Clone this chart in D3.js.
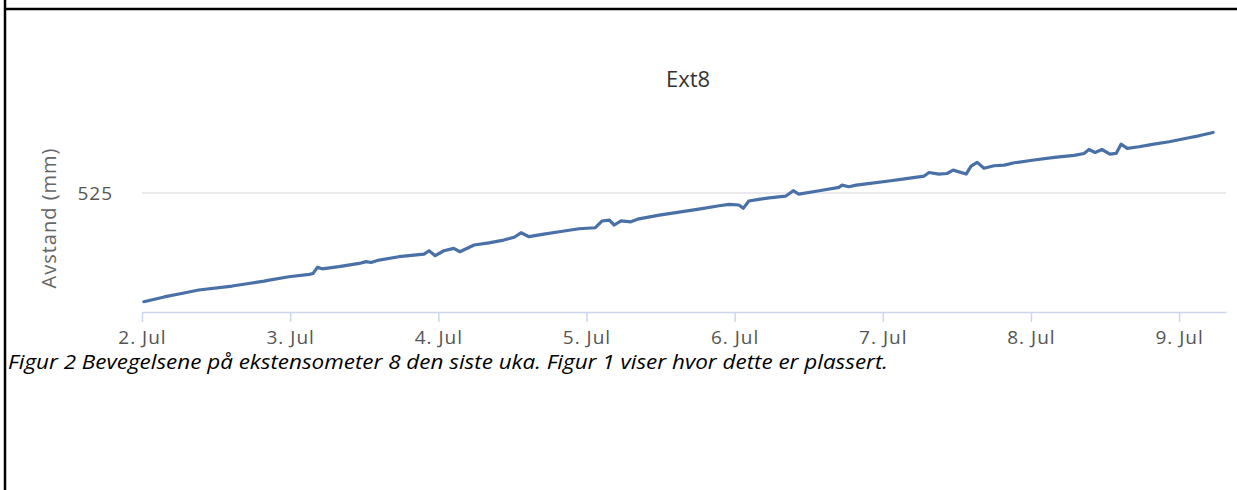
<!DOCTYPE html>
<html>
<head>
<meta charset="utf-8">
<script src="https://cdn.jsdelivr.net/npm/d3@7"></script>
<style>
  body { margin: 0; background: #fff; }
  svg { display: block; }
</style>
</head>
<body>
<div id="chart"></div>
<script>
(function() {

  // chart texts
  let chartTitle = "Ext8";
  let yTitle = "Avstand (mm)";
  let caption = "Figur 2 Bevegelsene på ekstensometer 8 den siste uka. Figur 1 viser hvor dette er plassert.";

  // x axis: one tick per day from 2. Jul
  let dayTicks = ["2. Jul", "3. Jul", "4. Jul", "5. Jul", "6. Jul", "7. Jul", "8. Jul", "9. Jul"];
  let yTicks = [525];

  // measurements: hours after 2. Jul 00:00 and distance in mm
  let hours = [0.3, 3.6, 6.8, 9.2, 14.6, 17.3, 19.8, 20.6, 23.8, 27.1, 27.7, 28.4, 29.2,
    31.9, 35.2, 36.3, 37.1, 38.4, 41.6, 45.7, 46.5, 47.5, 48.9,
    50.5, 51.5, 53.8, 56.2, 58.6, 60.3, 61.4, 62.7, 65.1, 67.6,
    70.8, 73.4, 74.5, 75.7, 76.5, 77.6, 79.2, 80.5, 83.8, 87.0,
    90.2, 93.5, 95.1, 96.7, 97.4, 98.3, 99.9, 101.6, 104.3, 105.5,
    106.4, 109.7, 112.9, 113.4, 114.5, 115.7, 117.0, 121.0, 123.5, 126.7,
    127.5, 129.1, 130.4, 131.4, 133.5, 134.3, 135.3, 136.4, 138.0, 139.7,
    141.3, 144.5, 147.8, 151.0, 152.6, 153.4, 154.4, 155.5, 156.8, 157.8,
    158.6, 159.6, 161.5, 163.9, 166.4, 169.6, 171.2, 173.5];
  let distance = [519.52, 519.76, 519.96, 520.11, 520.31, 520.44, 520.56, 520.61, 520.78, 520.90, 520.94, 521.25, 521.18,
    521.29, 521.45, 521.54, 521.50, 521.62, 521.79, 521.92, 522.09, 521.84, 522.09,
    522.21, 522.04, 522.38, 522.49, 522.63, 522.77, 523.00, 522.80, 522.93, 523.05,
    523.20, 523.25, 523.59, 523.64, 523.39, 523.60, 523.55, 523.70, 523.89, 524.04,
    524.19, 524.36, 524.43, 524.40, 524.23, 524.60, 524.68, 524.76, 524.85, 525.12,
    524.95, 525.12, 525.29, 525.40, 525.32, 525.40, 525.45, 525.61, 525.72, 525.86,
    526.04, 525.96, 525.99, 526.16, 525.96, 526.36, 526.55, 526.25, 526.38, 526.41,
    526.53, 526.67, 526.80, 526.90, 527.00, 527.20, 527.05, 527.20, 526.97, 527.00,
    527.47, 527.26, 527.34, 527.47, 527.59, 527.79, 527.89, 528.06];

  let start = new Date(2015, 6, 2);
  let hourMs = 3600 * 1000;
  let data = hours.map((h, i) => ({ date: new Date(+start + h * hourMs), value: distance[i] }));
  let tickDates = dayTicks.map((d, i) => new Date(+start + i * 24 * hourMs));

  let W = 1237, H = 490;
  let plot = { left: 142, right: 1226, top: 94, bottom: 312 };

  let svg = d3.select("#chart")
    .append("svg")
      .attr("width", W)
      .attr("height", H);

  svg.append("rect").attr("width", W).attr("height", H).attr("fill", "#fff");

  // table borders of the document
  svg.append("line")
      .attr("x1", 4).attr("x2", W).attr("y1", 9).attr("y2", 9)
      .attr("stroke", "#000").attr("stroke-width", 2.5);
  svg.append("line")
      .attr("x1", 5).attr("x2", 5).attr("y1", 0).attr("y2", H)
      .attr("stroke", "#000").attr("stroke-width", 2.5);

  // scales
  let x = d3.scaleTime()
      .domain([start, new Date(+start + 175.6 * hourMs)])
      .range([plot.left, plot.right]);
  let y = d3.scaleLinear()
      .domain([519, 530])
      .range([plot.bottom, plot.top]);

  // grid lines
  svg.append("g")
    .selectAll("line")
    .data(yTicks)
    .enter().append("line")
      .attr("x1", plot.left).attr("x2", plot.right)
      .attr("y1", d => y(d)).attr("y2", d => y(d))
      .attr("stroke", "#e3e3e3").attr("stroke-width", 1.5);

  // x axis
  let xAxis = svg.append("g")
      .attr("transform", "translate(0," + plot.bottom + ")")
      .call(d3.axisBottom(x)
        .tickValues(tickDates)
        .tickFormat((d, i) => dayTicks[i])
        .tickSize(10)
        .tickSizeOuter(0)
        .tickPadding(9));
  xAxis.select(".domain").attr("stroke", "#ccd6eb").attr("stroke-width", 1.5);
  xAxis.selectAll(".tick line").attr("stroke", "#ccd6eb").attr("stroke-width", 1.5);
  xAxis.selectAll("text")
      .attr("fill", "#555")
      .style("font-family", "'Open Sans', sans-serif")
      .style("font-size", "19px")
      .style("letter-spacing", "1px");

  // y axis
  let yAxis = svg.append("g")
      .attr("transform", "translate(" + plot.left + ",0)")
      .call(d3.axisLeft(y).tickValues(yTicks).tickSize(0).tickPadding(29));
  yAxis.select(".domain").remove();
  yAxis.selectAll("text")
      .attr("fill", "#555")
      .style("font-family", "'Open Sans', sans-serif")
      .style("font-size", "19px")
      .style("letter-spacing", "1px");

  svg.append("text")
      .attr("transform", "translate(56,218) rotate(-90)")
      .attr("text-anchor", "middle")
      .attr("fill", "#666")
      .style("font-family", "'Open Sans', sans-serif")
      .style("font-size", "20px")
      .style("letter-spacing", "1px")
      .text(yTitle);

  // title
  svg.append("text")
      .attr("x", 688).attr("y", 87)
      .attr("text-anchor", "middle")
      .attr("fill", "#333")
      .style("font-family", "'Open Sans', sans-serif")
      .style("font-size", "22px")
      .text(chartTitle);

  // the series
  let line = d3.line()
      .x(d => x(d.date))
      .y(d => y(d.value));
  svg.append("path")
      .datum(data)
      .attr("d", line)
      .attr("fill", "none")
      .attr("stroke", "#4a70a8")
      .attr("stroke-width", 3.2)
      .attr("stroke-linejoin", "round")
      .attr("stroke-linecap", "round");

  // caption under the figure
  svg.append("text")
      .attr("x", 8).attr("y", 369)
      .attr("fill", "#000")
      .attr("textLength", 880)
      .attr("lengthAdjust", "spacingAndGlyphs")
      .style("font-family", "'Open Sans', sans-serif")
      .style("font-style", "italic")
      .style("font-size", "19.5px")
      .text(caption);

})();
</script>
</body>
</html>
